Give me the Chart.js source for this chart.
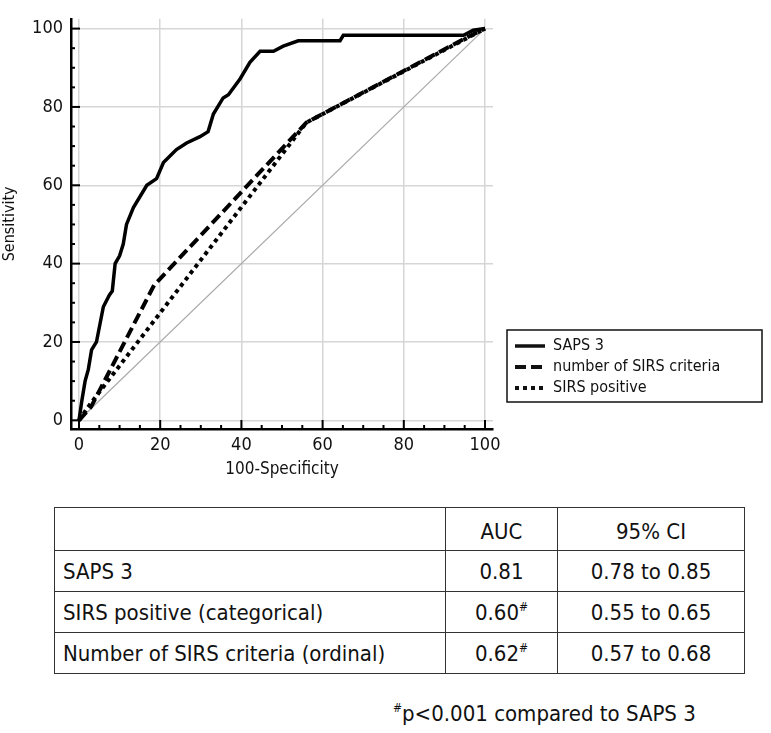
<!DOCTYPE html>
<html>
<head>
<meta charset="utf-8">
<script src="https://cdn.jsdelivr.net/npm/chart.js@4"></script>
<style>
  body { margin: 0; background: #fff; font-family: "Liberation Sans Narrow", "DejaVu Sans Condensed", "Roboto Condensed", sans-serif; }
  #wrap { position: relative; width: 771px; height: 733px; }
  #roc { position: absolute; left: 0; top: 0; }
  table { position: absolute; left: 54px; top: 507px; border-collapse: collapse; font-size: 22px; color: #111; }
  td { border: 1.5px solid #333; padding: 0 8px; }
  td.c { text-align: center; }
  tr.h td { height: 38px; vertical-align: middle; padding-top: 4px; }
  tr.r td { height: 40px; }
  sup { font-size: 12px; vertical-align: 9px; line-height: 0; }
  #note { position: absolute; left: 393px; top: 701px; font-size: 22px; color: #111; }
</style>
</head>
<body>
<div id="wrap">
  <canvas id="roc" width="771" height="480"></canvas>
  <table id="auc"></table>
  <div id="note"><sup>#</sup>p&lt;0.001 compared to SAPS 3</div>
</div>
<script>
// ROC curves (100-specificity, sensitivity)
const sapsX = [0, 0.7, 1.5, 2.3, 3.1, 4.3, 6, 7.5, 8.2, 8.9, 10, 10.9, 11.7, 13.4, 16.7, 19.1, 20.8, 24, 26.5, 29.8, 31.8, 33.1, 35.5, 36.8, 39.7, 42.1, 44.6, 47.9, 50.3, 54, 64.3, 65.1, 94.7, 97.1, 100];
const sapsY = [0, 5, 10, 13, 18, 20, 29, 32, 33, 40, 42, 45, 50, 54.3, 60, 61.7, 65.8, 69.1, 70.8, 72.4, 73.7, 78.2, 82.3, 83.1, 87.2, 91.4, 94.2, 94.2, 95.5, 96.9, 96.9, 98.3, 98.3, 99.6, 100];
const sirsNumX = [0, 3, 18.5, 56, 96, 100];
const sirsNumY = [0, 3.5, 34.5, 76, 98, 100];
const sirsPosX = [0, 3, 56, 100];
const sirsPosY = [0, 4.5, 76, 100];
const refX = [0, 100];
const refY = [0, 100];

const tickValues = [0, 5, 10, 15, 20, 25, 30, 35, 40, 45, 50, 55, 60, 65, 70, 75, 80, 85, 90, 95, 100];
const labelValues = [0, 20, 40, 60, 80, 100];
const legendLabels = ['SAPS 3', 'number of SIRS criteria', 'SIRS positive'];

const tableHead = ['', 'AUC', '95% CI'];
const tableRows = ['SAPS 3', 'SIRS positive (categorical)', 'Number of SIRS criteria (ordinal)'];
const aucValues = ['0.81', '0.60', '0.62'];
const aucMarks = ['', '#', '#'];
const ciValues = ['0.78 to 0.85', '0.55 to 0.65', '0.57 to 0.68'];

const FONT = '"Liberation Sans Narrow", "DejaVu Sans Condensed", "Roboto Condensed", sans-serif';

function pts(xs, ys) {
  return xs.map((x, i) => ({ x: x, y: ys[i] }));
}

// table below the chart
(function () {
  const t = document.getElementById('auc');
  let html = '<tr class="h">';
  const widths = [374, 95, 170];
  tableHead.forEach((h, i) => {
    html += '<td class="' + (i ? 'c' : '') + '" style="width:' + widths[i] + 'px">' + h + '</td>';
  });
  html += '</tr>';
  tableRows.forEach((r, i) => {
    html += '<tr class="r"><td>' + r + '</td><td class="c">' + aucValues[i] +
      (aucMarks[i] ? '<sup>' + aucMarks[i] + '</sup>' : '') + '</td><td class="c">' + ciValues[i] + '</td></tr>';
  });
  t.innerHTML = html;
})();

// inward tick marks on both axes
const innerTicks = {
  id: 'innerTicks',
  afterDraw(chart) {
    const ctx = chart.ctx;
    const xs = chart.scales.x, ys = chart.scales.y;
    const area = chart.chartArea;
    ctx.save();
    ctx.strokeStyle = '#000';
    ctx.lineWidth = 2;
    tickValues.forEach(v => {
      const len = labelValues.includes(v) ? 9 : 4;
      const px = xs.getPixelForValue(v);
      ctx.beginPath();
      ctx.moveTo(px, area.bottom);
      ctx.lineTo(px, area.bottom - len);
      ctx.stroke();
      const py = ys.getPixelForValue(v);
      ctx.beginPath();
      ctx.moveTo(area.left, py);
      ctx.lineTo(area.left + len, py);
      ctx.stroke();
    });
    ctx.restore();
  }
};

// boxed legend to the right of the plot
const boxLegend = {
  id: 'boxLegend',
  afterDraw(chart) {
    const ctx = chart.ctx;
    const left = 507, top = 330, w = 255, h = 72;
    ctx.save();
    ctx.strokeStyle = '#111';
    ctx.lineWidth = 1.5;
    ctx.strokeRect(left, top, w, h);
    ctx.font = '16px ' + FONT;
    ctx.fillStyle = '#111';
    ctx.textBaseline = 'middle';
    legendLabels.forEach((label, i) => {
      const ds = chart.data.datasets[i];
      const y = top + 16 + i * 21;
      ctx.beginPath();
      ctx.lineWidth = ds.borderWidth;
      ctx.setLineDash(ds.borderDash || []);
      ctx.moveTo(left + 8, y);
      ctx.lineTo(left + 38, y);
      ctx.stroke();
      ctx.setLineDash([]);
      ctx.fillText(label, left + 46, y);
    });
    ctx.restore();
  }
};

function gridColor(c) {
  return labelValues.includes(c.tick.value) ? '#d6d6d6' : 'rgba(0,0,0,0)';
}

Chart.defaults.font.family = FONT;
Chart.defaults.color = '#111';

new Chart(document.getElementById('roc'), {
  type: 'scatter',
  data: {
    datasets: [
      {
        label: legendLabels[0],
        data: pts(sapsX, sapsY),
        showLine: true,
        borderColor: '#000',
        borderWidth: 3.5,
        pointRadius: 0
      },
      {
        label: legendLabels[1],
        data: pts(sirsNumX, sirsNumY),
        showLine: true,
        borderColor: '#000',
        borderWidth: 4,
        borderDash: [11, 5],
        pointRadius: 0
      },
      {
        label: legendLabels[2],
        data: pts(sirsPosX, sirsPosY),
        showLine: true,
        borderColor: '#000',
        borderWidth: 4,
        borderDash: [4, 4],
        pointRadius: 0
      },
      {
        label: 'reference',
        data: pts(refX, refY),
        showLine: true,
        borderColor: '#aaaaaa',
        borderWidth: 1.2,
        pointRadius: 0
      }
    ]
  },
  options: {
    responsive: false,
    animation: false,
    layout: {
      padding: { left: 0, top: 5, right: 278, bottom: 0 }
    },
    plugins: {
      legend: { display: false },
      tooltip: { enabled: false }
    },
    scales: {
      x: {
        type: 'linear',
        min: -1.97,
        max: 101.97,
        afterBuildTicks(scale) {
          scale.ticks = tickValues.map(v => ({ value: v }));
        },
        afterFit(scale) {
          scale.height = 51;
        },
        border: { display: true, color: '#000', width: 2.5 },
        grid: { drawTicks: false, color: gridColor, lineWidth: 1.5 },
        ticks: {
          autoSkip: false,
          maxRotation: 0,
          padding: 6,
          font: { size: 18 },
          callback(v) { return labelValues.includes(v) ? String(v) : ''; }
        },
        title: {
          display: true,
          text: '100-Specificity',
          font: { size: 17 },
          padding: { top: 0, bottom: 0 }
        }
      },
      y: {
        type: 'linear',
        min: -2.22,
        max: 102.5,
        afterBuildTicks(scale) {
          scale.ticks = tickValues.map(v => ({ value: v }));
        },
        afterFit(scale) {
          scale.width = 71;
        },
        border: { display: true, color: '#000', width: 2.5 },
        grid: { drawTicks: false, color: gridColor, lineWidth: 1.5 },
        ticks: {
          autoSkip: false,
          padding: 8,
          font: { size: 18 },
          callback(v) { return labelValues.includes(v) ? String(v) : ''; }
        },
        title: {
          display: true,
          text: 'Sensitivity',
          font: { size: 16 },
          padding: { top: 0, bottom: 0 }
        }
      }
    }
  },
  plugins: [innerTicks, boxLegend]
});
</script>
</body>
</html>
